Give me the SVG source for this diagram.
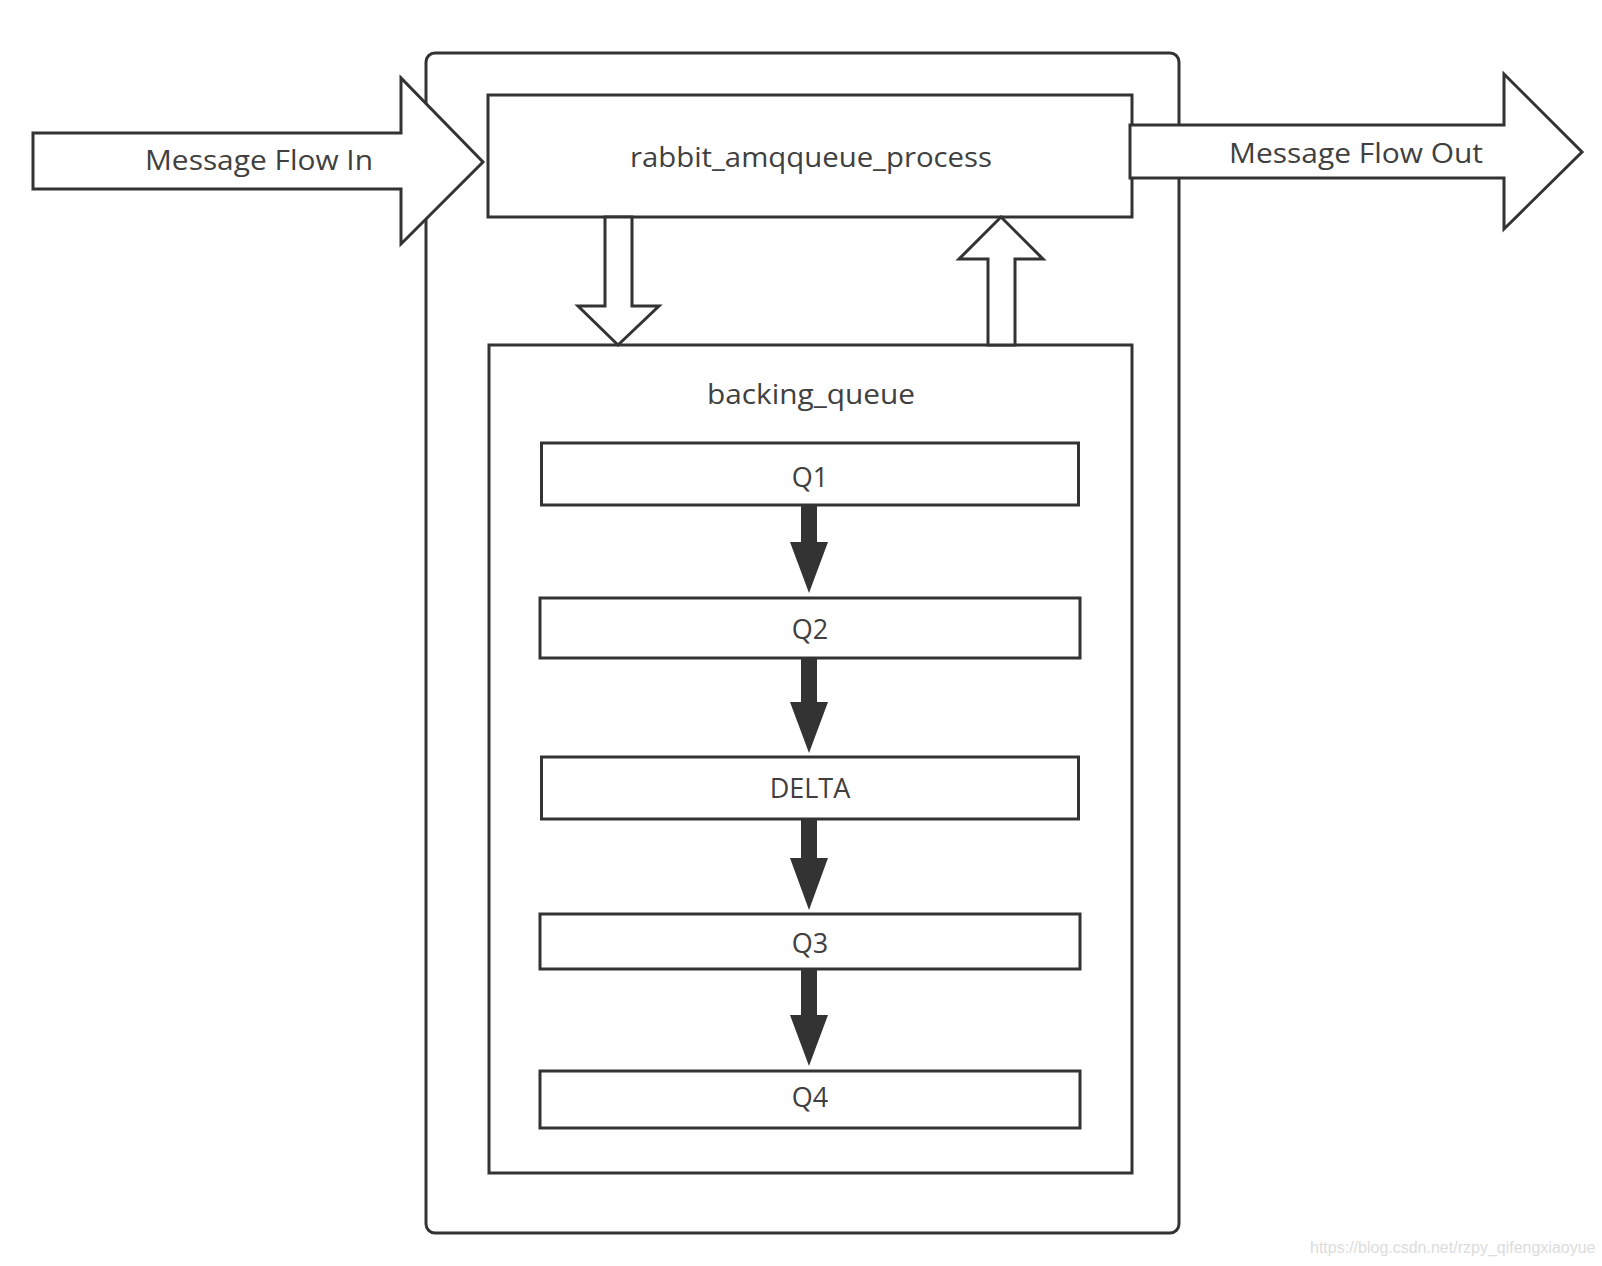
<svg xmlns="http://www.w3.org/2000/svg" width="1602" height="1266" viewBox="0 0 1602 1266">
<style>
.box{fill:#fff;stroke:#333;stroke-width:3}
.hollow{fill:#fff;stroke:#333;stroke-width:3;stroke-linejoin:miter}
.solid{fill:#333;stroke:none}
.lbl{font-family:"Open Sans","Noto Sans",sans-serif;font-size:27px;fill:#404040;text-anchor:middle}
.wm{font-family:"Liberation Sans",Arial,sans-serif;font-size:16px;fill:#dcdcdc}
</style>
<rect width="1602" height="1266" fill="#fff"/>
<g id="container">
<rect class="box" x="426" y="53" width="753" height="1180" rx="9"/>
</g>
<g id="rabbit_amqqueue_process">
<rect class="box" x="488" y="95" width="644" height="122"/>
<text class="lbl" x="811" y="167" textLength="362" lengthAdjust="spacingAndGlyphs">rabbit_amqqueue_process</text>
</g>
<g id="backing_queue">
<rect class="box" x="489" y="345" width="643" height="828"/>
<text class="lbl" x="811" y="404" textLength="208" lengthAdjust="spacingAndGlyphs">backing_queue</text>
</g>
<g id="q1">
<rect class="box" x="541.5" y="443" width="537" height="62"/>
<text class="lbl" x="810" y="487">Q1</text>
</g>
<g id="q2">
<rect class="box" x="540" y="598" width="540" height="60"/>
<text class="lbl" x="810" y="639">Q2</text>
</g>
<g id="delta">
<rect class="box" x="541.5" y="757" width="537" height="62"/>
<text class="lbl" x="810" y="798">DELTA</text>
</g>
<g id="q3">
<rect class="box" x="540" y="914" width="540" height="55"/>
<text class="lbl" x="810" y="953">Q3</text>
</g>
<g id="q4">
<rect class="box" x="540" y="1071" width="540" height="57"/>
<text class="lbl" x="810" y="1107">Q4</text>
</g>
<g id="connectors">
<g id="flow-in">
<polygon class="hollow" points="33,133 401,133 401,78 483,162 401,244 401,189 33,189"/>
<text class="lbl" x="259" y="170" textLength="228" lengthAdjust="spacingAndGlyphs">Message Flow In</text>
</g>
<g id="flow-out">
<polygon class="hollow" points="1130,125 1504,125 1504,74 1582,152 1504,229 1504,178 1130,178"/>
<text class="lbl" x="1356" y="163" textLength="254" lengthAdjust="spacingAndGlyphs">Message Flow Out</text>
</g>
<polygon class="hollow" points="605,217 632,217 632,306 659,306 618,345 578,306 605,306"/>
<polygon class="hollow" points="1001,217 1043,259 1015,259 1015,345 988,345 988,259 959,259"/>
<polygon class="solid" points="801,505 817,505 817,542 828,542 809,593 790,542 801,542"/>
<polygon class="solid" points="801,658 817,658 817,702 828,702 809,753 790,702 801,702"/>
<polygon class="solid" points="801,819 817,819 817,858 828,858 809,910 790,858 801,858"/>
<polygon class="solid" points="801,969 817,969 817,1015 828,1015 809,1066 790,1015 801,1015"/>
</g>
<text class="wm" x="1310" y="1253">https://blog.csdn.net/rzpy_qifengxiaoyue</text>
</svg>
